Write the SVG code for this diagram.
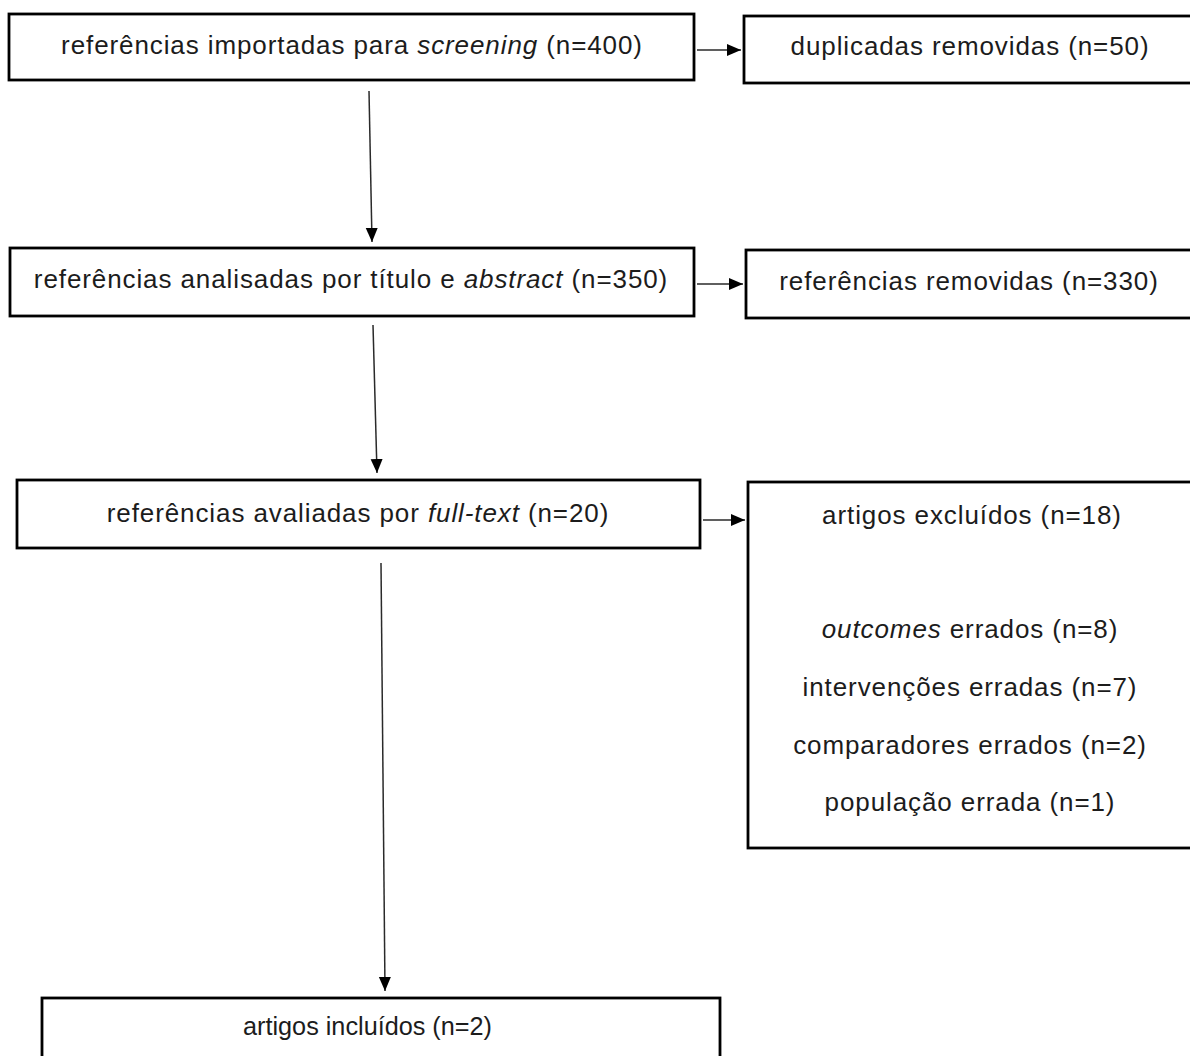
<svg xmlns="http://www.w3.org/2000/svg" width="1190" height="1056" viewBox="0 0 1190 1056">
<defs>
<style>
.box{fill:#fff;stroke:#000;stroke-width:2.8}
.t{font-family:"Liberation Sans",Arial,sans-serif;font-size:26px;letter-spacing:0.9px;fill:#1c1c1c;text-anchor:middle}
.i{font-style:italic}
.c{stroke:#2a2a2a;stroke-width:1.5;fill:none}
</style>
<marker id="ah" markerWidth="14" markerHeight="14" viewBox="0 0 14 14" refX="14" refY="7" orient="auto" markerUnits="userSpaceOnUse">
<path d="M0,1 L14,7 L0,13 Z" fill="#000"/>
</marker>
</defs>
<rect width="1190" height="1056" fill="#fff"/>
<g id="connectors">
<line class="c" x1="697" y1="50" x2="741" y2="50" marker-end="url(#ah)"/>
<line class="c" x1="369" y1="91" x2="372" y2="242" marker-end="url(#ah)"/>
<line class="c" x1="697" y1="284" x2="743" y2="284" marker-end="url(#ah)"/>
<line class="c" x1="373" y1="325" x2="377" y2="473" marker-end="url(#ah)"/>
<line class="c" x1="703" y1="520" x2="745" y2="520" marker-end="url(#ah)"/>
<line class="c" x1="381" y1="563" x2="385" y2="991" marker-end="url(#ah)"/>
</g>
<g id="n1">
<rect class="box" x="9" y="14" width="685" height="66"/>
<text class="t" x="352" y="54">referências importadas para <tspan class="i">screening</tspan> (n=400)</text>
</g>
<g id="n2">
<rect class="box" x="744" y="16" width="460" height="67"/>
<text class="t" x="970" y="55">duplicadas removidas (n=50)</text>
</g>
<g id="n3">
<rect class="box" x="10" y="248" width="684" height="68"/>
<text class="t" x="351" y="288">referências analisadas por título e <tspan class="i">abstract</tspan> (n=350)</text>
</g>
<g id="n4">
<rect class="box" x="746" y="250" width="460" height="68"/>
<text class="t" x="969" y="290">referências removidas (n=330)</text>
</g>
<g id="n5">
<rect class="box" x="17" y="480" width="683" height="68"/>
<text class="t" x="358" y="522">referências avaliadas por <tspan class="i">full-text</tspan> (n=20)</text>
</g>
<g id="n6">
<rect class="box" x="748" y="482" width="460" height="366"/>
<text class="t" x="972" y="524">artigos excluídos (n=18)</text>
<text class="t" x="970" y="638"><tspan class="i">outcomes</tspan> errados (n=8)</text>
<text class="t" x="970" y="696">intervenções erradas (n=7)</text>
<text class="t" x="970" y="754">comparadores errados (n=2)</text>
<text class="t" x="970" y="811">população errada (n=1)</text>
</g>
<g id="n7">
<rect class="box" x="42" y="998" width="678" height="80"/>
<text class="t" x="243" y="1035" style="text-anchor:start;letter-spacing:0" textLength="249" lengthAdjust="spacingAndGlyphs">artigos incluídos (n=2)</text>
</g>
</svg>
